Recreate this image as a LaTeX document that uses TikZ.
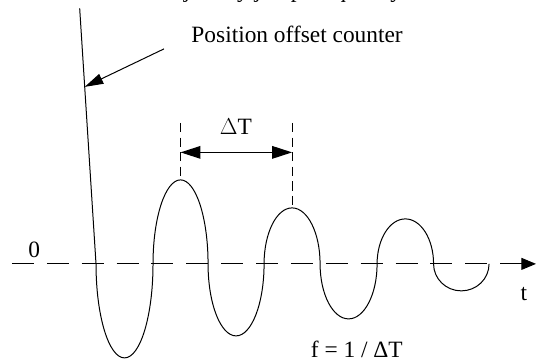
\documentclass[tikz,border=0pt]{standalone}
\usepackage{fontspec}
\setmainfont{Liberation Serif}
\usetikzlibrary{arrows.meta, positioning, calc}

\begin{document}
\begin{tikzpicture}[font=\fontsize{17.6}{20}\selectfont, line width=0.75pt,
    lbl/.style={inner sep=0pt, anchor=base},
    guide/.style={dash pattern=on 7pt off 4pt}]
    \useasboundingbox (0,0) rectangle (14.18,9.60);
    % caption, cut off by the top edge
    \node[lbl] (cap) at (7.33,9.66) {Trajectory jump frequency};
    % zero line
    \coordinate (ax0) at (0.317,2.619);
    \coordinate (ax1) at (14.18,2.619);
    \draw[dash pattern=on 16.5pt off 9.75pt, -{Triangle[length=11pt,width=9pt]}] (ax0) -- (ax1);
    \node[lbl] (zero) at (0.905,2.778) {0};
    \node[lbl] (tlbl) at (13.86,1.640) {t};
    % decaying wave
    \coordinate (top) at (2.108,9.378);
    \coordinate (c0) at (2.540,2.619);
    \draw (top) -- (c0)
      arc[start angle=180, end angle=360, x radius=0.754, y radius=2.487]
      arc[start angle=180, end angle=90, x radius=0.728, y radius=2.222] coordinate (pk1)
      arc[start angle=90, end angle=0, x radius=0.728, y radius=2.222]
      arc[start angle=180, end angle=360, x radius=0.741, y radius=1.905]
      arc[start angle=180, end angle=90, x radius=0.741, y radius=1.481] coordinate (pk2)
      arc[start angle=90, end angle=0, x radius=0.741, y radius=1.481]
      arc[start angle=180, end angle=360, x radius=0.754, y radius=1.455]
      arc[start angle=180, end angle=0, x radius=0.747, y radius=1.190]
      arc[start angle=180, end angle=360, x radius=0.734, y radius=0.714];
    % pointer to the first edge
    \node[lbl] (poc) at (7.86,8.474) {Position offset counter};
    \coordinate (tail) at (4.339,8.307);
    \coordinate (hit) at (2.241,7.302);
    \draw[-{Triangle[length=14pt,width=8pt]}] (tail) -- (hit);
    % period marks
    \coordinate (g1) at (pk1 |- 0,6.349);
    \coordinate (g2) at (pk2 |- 0,6.349);
    \draw[guide] (g1) -- (pk1);
    \draw[guide] (g2) -- (pk2);
    \coordinate (d1) at (pk1 |- 0,5.569);
    \coordinate (d2) at (pk2 |- 0,5.569);
    \draw[thick, {Triangle[length=15pt,width=9.5pt]}-{Triangle[length=15pt,width=9.5pt]}] (d1) -- (d2);
    \node[lbl] (dt) at (6.243,6.032) {$\Delta$T};
    \node[lbl] (freq) at (9.44,0.132) {f = 1 / ΔT};
\end{tikzpicture}
\end{document}
